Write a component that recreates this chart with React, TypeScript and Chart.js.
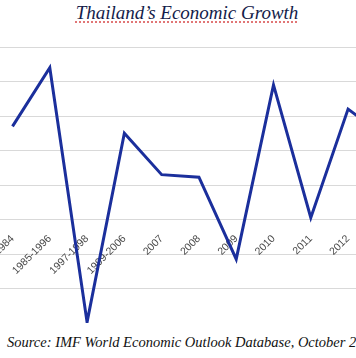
import React, { useEffect, useRef } from "react";
import { Chart, registerables } from "chart.js";

Chart.register(...registerables);

const periods = ["1980-1984", "1985-1996", "1997-1998", "1999-2006", "2007", "2008", "2009", "2010", "2011", "2012", "2013"];
const growth = [5.4, 8.8, -5.95, 5.0, 2.6, 2.45, -2.3, 7.8, 0.1, 6.4, 4.8];
const yMin = -6;
const yMax = 10;
const yStep = 2;
const titleText = "Thailand\u2019s Economic Growth";
const sourceText = "Source: IMF World Economic Outlook Database, October 2012";

export default function App() {
  const ref = useRef<HTMLCanvasElement | null>(null);

  useEffect(() => {
    if (!ref.current) return;
    const chart = new Chart(ref.current, {
      type: "line",
      data: {
        labels: periods,
        datasets: [
          {
            data: growth,
            borderColor: "#1b2f9c",
            borderWidth: 3,
            pointRadius: 0,
            tension: 0,
            fill: false,
          },
        ],
      },
      options: {
        animation: false,
        responsive: false,
        maintainAspectRatio: false,
        layout: { padding: 0 },
        plugins: { legend: { display: false }, title: { display: false }, tooltip: { enabled: false } },
        scales: {
          x: {
            position: { y: 0 },
            offset: true,
            grid: { display: false, drawTicks: true, tickLength: 8 },
            border: { display: false },
            ticks: {
              autoSkip: false,
              maxRotation: 45,
              minRotation: 45,
              padding: 5,
              color: "#4a4a4a",
              font: { family: "'Liberation Sans', Arial, sans-serif", size: 10.5 },
            },
          },
          y: {
            min: yMin,
            max: yMax,
            ticks: { display: false, stepSize: yStep },
            grid: { color: "#d9d9d9", lineWidth: 1, drawTicks: false },
            border: { display: false },
          },
        },
      },
    });
    return () => chart.destroy();
  }, []);

  return (
    <div style={{ position: "absolute", left: 0, top: 0, width: 356, height: 358, overflow: "hidden", background: "#fff" }}>
      <div
        style={{
          position: "absolute",
          left: 0,
          width: 374,
          top: 2,
          textAlign: "center",
          fontFamily: "'Liberation Serif', 'Times New Roman', serif",
          fontStyle: "italic",
          fontSize: 19,
          color: "#141c4a",
          whiteSpace: "nowrap",
          textDecoration: "underline dotted #e07070",
          textUnderlineOffset: 3,
        }}
      >
        {titleText}
      </div>
      <canvas
        ref={ref}
        width={432}
        height={276}
        style={{ position: "absolute", left: -28, top: 47, width: 432, height: 276 }}
      />
      <div
        style={{
          position: "absolute",
          left: 7,
          top: 334,
          fontFamily: "'Liberation Serif', 'Times New Roman', serif",
          fontStyle: "italic",
          fontSize: 14.5,
          color: "#111",
          whiteSpace: "nowrap",
        }}
      >
        {sourceText}
      </div>
    </div>
  );
}
